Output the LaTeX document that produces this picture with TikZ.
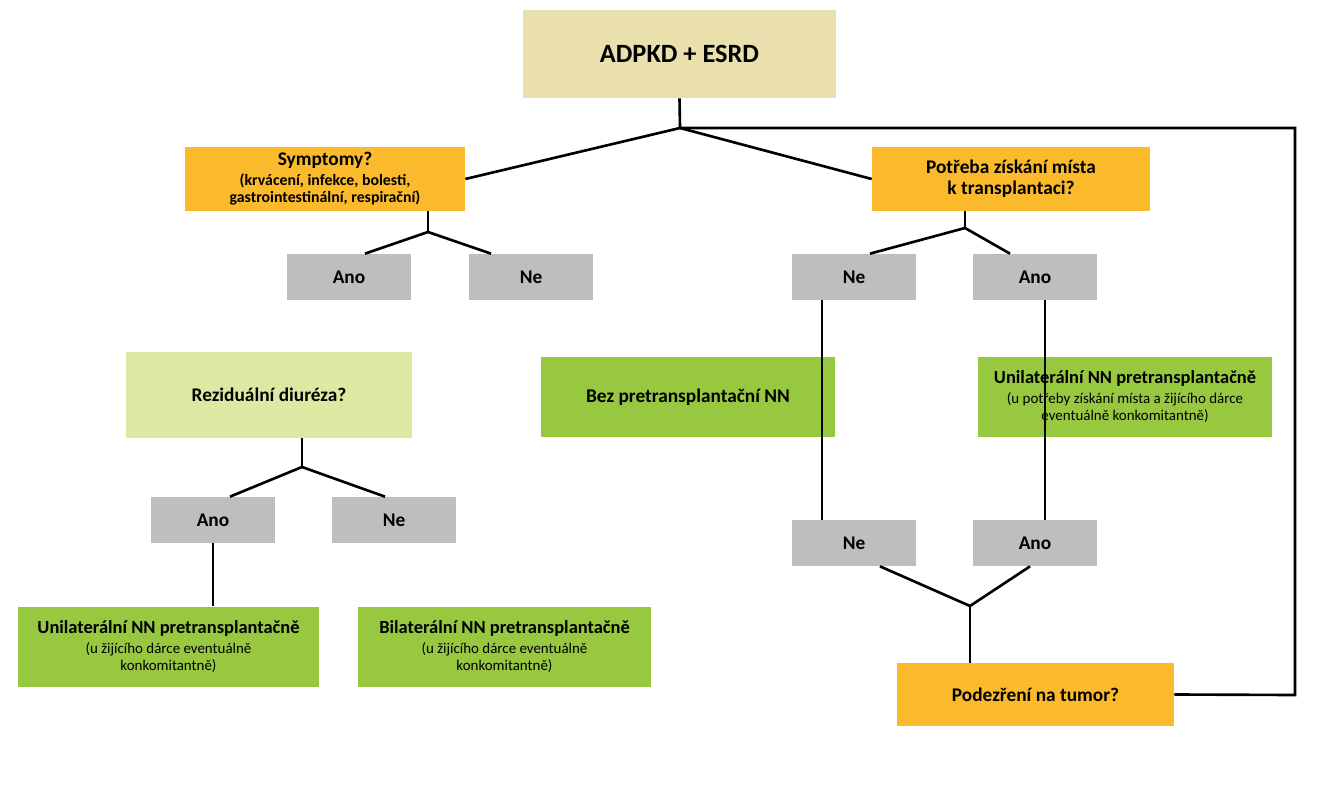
\documentclass[tikz,border=0pt]{standalone}
\usepackage{fontspec}
\setmainfont{Carlito}
\usetikzlibrary{calc}

\definecolor{beige}{HTML}{E9E0AD}
\definecolor{oranzova}{HTML}{FBBA2B}
\definecolor{seda}{HTML}{BEBEBE}
\definecolor{svetlezelena}{HTML}{DDE9A2}
\definecolor{zelena}{HTML}{97C83F}

\newcommand{\pozn}{\fontsize{8.5}{10.5}\selectfont\mdseries}

\tikzset{
  box/.style={draw=none, align=center, inner sep=0pt, font=\bfseries},
  otazka/.style={box, fill=oranzova, font=\bfseries\fontsize{11}{12}\selectfont},
  volba/.style={box, fill=seda, minimum width=2.48cm, minimum height=0.92cm, font=\bfseries\fontsize{11}{12}\selectfont},
  zaver/.style={box, fill=zelena, font=\bfseries\fontsize{10.5}{12}\selectfont},
  spoj/.style={line width=1.5pt, black}
}

\begin{document}
\begin{tikzpicture}[x=0.02cm, y=-0.02cm]
  \useasboundingbox (0,0) rectangle (1317,800);

  % Start
  \node[box, fill=beige, minimum width=6.26cm, minimum height=1.76cm, font=\bfseries\fontsize{15}{18}\selectfont] (start) at (679.5,54) {ADPKD + ESRD};

  % Questions
  \node[otazka, minimum width=5.6cm, minimum height=1.28cm] (sympt) at (325,179)
    {Symptomy?\\[-1pt]{\fontsize{9}{11}\selectfont (krvácení, infekce, bolesti,}\\[-2pt]{\fontsize{9}{11}\selectfont gastrointestinální, respirační)}};
  \node[otazka, minimum width=5.56cm, minimum height=1.28cm] (misto) at (1011,179)
    {Potřeba získání místa\\k transplantaci?};

  % First level choices
  \node[volba] (ano1) at (349,277) {Ano};
  \node[volba] (ne1) at (531,277) {Ne};
  \node[volba] (ne2) at (854,277) {Ne};
  \node[volba] (ano2) at (1035,277) {Ano};

  % Second level
  \node[box, fill=svetlezelena, minimum width=5.72cm, minimum height=1.72cm, font=\bfseries\fontsize{11}{12}\selectfont] (diur) at (269,395) {Reziduální diuréza?};
  \node[zaver, minimum width=5.88cm, minimum height=1.62cm, font=\bfseries\fontsize{11}{12}\selectfont] (bez) at (688,397) {Bez pretransplantační NN};
  \node[zaver, minimum width=5.88cm, minimum height=1.62cm] (unipr) at (1125,397)
    {Unilaterální NN pretransplantačně\\[-1pt]{\pozn (u potřeby získání místa a žijícího dárce}\\[-2pt]{\pozn eventuálně konkomitantně)}};

  % Third level
  \node[volba] (ano3) at (213,520) {Ano};
  \node[volba] (ne3) at (394,520) {Ne};
  \node[volba] (ne4) at (854,543) {Ne};
  \node[volba] (ano4) at (1035,543) {Ano};

  % Results
  \node[zaver, minimum width=6.02cm, minimum height=1.62cm] (unile) at (168.5,647)
    {Unilaterální NN pretransplantačně\\[-1pt]{\pozn (u žijícího dárce eventuálně}\\[-2pt]{\pozn konkomitantně)}};
  \node[zaver, minimum width=5.86cm, minimum height=1.62cm] (bila) at (504.5,647)
    {Bilaterální NN pretransplantačně\\[-1pt]{\pozn (u žijícího dárce eventuálně}\\[-2pt]{\pozn konkomitantně)}};
  \node[otazka, minimum width=5.54cm, minimum height=1.26cm] (tumor) at (1035.5,694.5) {Podezření na tumor?};

  % Junctions
  \coordinate (j1) at (680,128);
  \coordinate (j2) at (428,232);
  \coordinate (j3) at (965,228);
  \coordinate (j4) at (302,467);
  \coordinate (j5) at (970,606);
  \coordinate (roh1) at (1295,128);
  \coordinate (roh2) at (1295,695);

  % Connectors
  \draw[spoj] (start.south) -- (j1);
  \draw[spoj] (j1) -- (sympt.east);
  \draw[spoj] (j1) -- (misto.west);
  \draw[spoj] (j1) -- (roh1) -- (roh2) -- (tumor.east);

  \draw[spoj] (sympt.south -| j2) -- (j2);
  \draw[spoj] (j2) -- ($(ano1.north)+(16,0)$);
  \draw[spoj] (j2) -- ($(ne1.north)+(-40,0)$);

  \draw[spoj] (misto.south -| j3) -- (j3);
  \draw[spoj] (j3) -- ($(ne2.north)+(16,0)$);
  \draw[spoj] (j3) -- ($(ano2.north)+(-25,0)$);

  \draw[spoj] ($(ano1.south)+(-12,0)$) -- ($(ano1.south)+(-12,0)$ |- diur.north);
  \draw[spoj] (diur.south -| j4) -- (j4);
  \draw[spoj] (j4) -- ($(ano3.north)+(17,0)$);
  \draw[spoj] (j4) -- ($(ne3.north)+(-9,0)$);

  \draw[spoj] (ano3.south) -- (ano3.south |- unile.north);
  \draw[spoj] ($(ne3.south)+(3,0)$) -- ($(ne3.south)+(3,0)$ |- bila.north);

  \draw[spoj] ($(ne2.south)+(-32,0)$) -- ($(ne2.south)+(-32,0)$ |- bez.north);
  \draw[spoj] ($(ne2.south)+(-32,0)$ |- bez.south) -- ($(ne4.north)+(-32,0)$);
  \draw[spoj] ($(ano2.south)+(10,0)$) -- ($(ano2.south)+(10,0)$ |- unipr.north);
  \draw[spoj] ($(ano2.south)+(10,0)$ |- unipr.south) -- ($(ano4.north)+(10,0)$);

  \draw[spoj] ($(ne4.south)+(26,0)$) -- (j5);
  \draw[spoj] ($(ano4.south)+(-5,0)$) -- (j5);
  \draw[spoj] (j5) -- (j5 |- tumor.north);
\end{tikzpicture}
\end{document}
